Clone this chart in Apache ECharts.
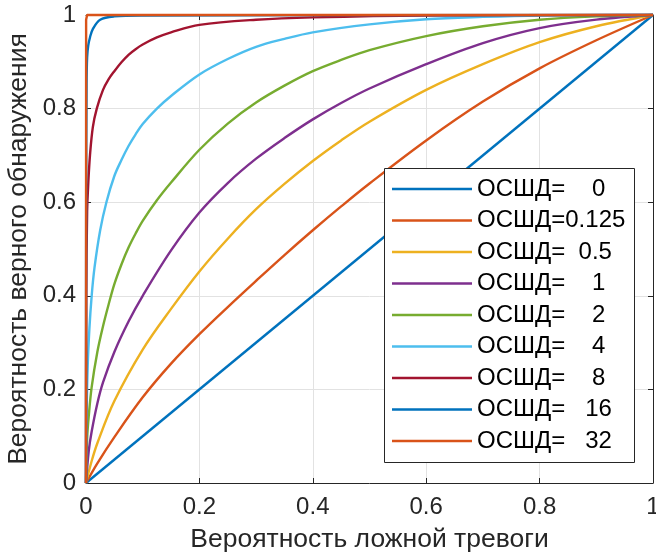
<!DOCTYPE html>
<html><head><meta charset="utf-8">
<script src="https://cdn.jsdelivr.net/npm/echarts@6/dist/echarts.min.js"></script>
<style>html,body{margin:0;padding:0;background:#fff}#c{width:656px;height:555px}</style>
</head><body><div id="c"></div>
<script>
var seriesNames = ["ОСШД=    0","ОСШД=0.125","ОСШД=  0.5","ОСШД=    1","ОСШД=    2","ОСШД=    4","ОСШД=    8","ОСШД=   16","ОСШД=   32"];
var seriesColors = ["#0072BD","#D95319","#EDB120","#7E2F8E","#77AC30","#4DBEEE","#A2142F","#0072BD","#D95319"];
var xTickLabels = ["0","0.2","0.4","0.6","0.8","1"];
var yTickLabels = ["0","0.2","0.4","0.6","0.8","1"];

var roc_0 = [[0,0],[1,1]];
var roc_0125 = [[0,0],[0.02,0.042],[0.05,0.098],[0.1,0.183],[0.15,0.255],[0.2,0.318],[0.25,0.376],[0.3,0.432],[0.35,0.487],[0.4,0.54],[0.45,0.591],[0.5,0.64],[0.6,0.732],[0.7,0.815],[0.8,0.886],[0.9,0.946],[1,1]];
var roc_05 = [[0,0],[0.01,0.047],[0.02,0.085],[0.05,0.175],[0.1,0.285],[0.15,0.372],[0.2,0.452],[0.25,0.522],[0.3,0.585],[0.35,0.639],[0.4,0.688],[0.45,0.732],[0.5,0.772],[0.6,0.84],[0.7,0.895],[0.8,0.942],[0.9,0.976],[1,1]];
var roc_1 = [[0,0],[0.005,0.07],[0.01,0.11],[0.02,0.17],[0.03,0.215],[0.05,0.28],[0.075,0.345],[0.1,0.4],[0.15,0.497],[0.2,0.578],[0.25,0.641],[0.3,0.693],[0.35,0.737],[0.4,0.777],[0.45,0.812],[0.5,0.843],[0.6,0.895],[0.7,0.94],[0.8,0.972],[0.9,0.99],[1,1]];
var roc_2 = [[0,0],[0.002,0.095],[0.005,0.145],[0.01,0.205],[0.02,0.28],[0.03,0.335],[0.04,0.382],[0.05,0.425],[0.0625,0.467],[0.075,0.503],[0.0875,0.533],[0.1,0.56],[0.125,0.604],[0.15,0.642],[0.2,0.712],[0.25,0.768],[0.3,0.813],[0.35,0.849],[0.4,0.88],[0.45,0.904],[0.5,0.925],[0.6,0.955],[0.7,0.976],[0.8,0.99],[0.9,0.997],[1,1]];
var roc_4 = [[0,0],[0.001,0.14],[0.003,0.25],[0.006,0.33],[0.01,0.4],[0.015,0.46],[0.025,0.54],[0.036,0.6],[0.05,0.656],[0.0625,0.69],[0.075,0.72],[0.0875,0.745],[0.1,0.767],[0.125,0.8],[0.15,0.827],[0.2,0.873],[0.25,0.906],[0.3,0.932],[0.35,0.949],[0.4,0.963],[0.5,0.98],[0.6,0.991],[0.7,0.996],[0.8,0.999],[1,1]];
var roc_8 = [[0,0],[0.0005,0.4],[0.002,0.58],[0.004,0.64],[0.007,0.7],[0.012,0.76],[0.019,0.8],[0.03,0.84],[0.04,0.863],[0.05,0.88],[0.0625,0.899],[0.075,0.915],[0.0875,0.927],[0.1,0.937],[0.125,0.952],[0.15,0.963],[0.2,0.979],[0.3,0.99],[0.4,0.995],[0.6,0.999],[1,1]];
var roc_16 = [[0,0],[0.0003,0.6],[0.001,0.85],[0.002,0.91],[0.004,0.935],[0.007,0.952],[0.012,0.97],[0.025,0.99],[0.05,0.997],[0.1,0.999],[1,1]];
var roc_32 = [[0,0],[0.0002,0.99],[0.002,1],[1,1]];
var rocData = [roc_0, roc_0125, roc_05, roc_1, roc_2, roc_4, roc_8, roc_16, roc_32];

var FONT = "'Liberation Sans', Arial, Helvetica, sans-serif";
var chart = echarts.init(document.getElementById('c'), null, {renderer:'canvas'});
var axisCol = '#262626';
var series = rocData.map(function(d, i){
  return {name: seriesNames[i], type:'line', data:d, showSymbol:false, symbol:'none',
    smooth: (i === 0 || i === 8) ? false : 0.35, clip:false,
    lineStyle:{color:seriesColors[i], width:2.4}, itemStyle:{color:seriesColors[i]},
    z: 2 + i*0.01, animation:false};
});
chart.setOption({
  animation:false,
  backgroundColor:'#fff',
  grid:{left:86, right:3, top:15, bottom:72, show:false, containLabel:false, outerBoundsMode:'none'},
  xAxis:[{type:'value', min:0, max:1, interval:0.2, position:'bottom',
    name:'Вероятность ложной тревоги', nameLocation:'middle', nameGap:43,
    nameTextStyle:{fontFamily:FONT, fontSize:26.5, color:axisCol},
    axisLine:{show:true, onZero:false, lineStyle:{color:axisCol, width:1}},
    axisTick:{show:true, inside:true, length:5, lineStyle:{color:axisCol}},
    axisLabel:{fontFamily:FONT, fontSize:24, color:axisCol, margin:12, hideOverlap:false,
      formatter:function(v){ return xTickLabels[Math.round(v/0.2)]; }},
    splitLine:{show:true, lineStyle:{color:'#e2e2e2', width:1}}},
   {type:'value', min:0, max:1, interval:0.2, position:'top',
    axisLine:{show:true, onZero:false, lineStyle:{color:axisCol, width:1}},
    axisTick:{show:true, inside:true, length:5, lineStyle:{color:axisCol}},
    axisLabel:{show:false}, splitLine:{show:false}}],
  yAxis:[{type:'value', min:0, max:1, interval:0.2, position:'left',
    name:'Вероятность верного обнаружения', nameLocation:'middle', nameGap:46,
    nameTextStyle:{fontFamily:FONT, fontSize:26.5, color:axisCol},
    axisLine:{show:true, onZero:false, lineStyle:{color:axisCol, width:1}},
    axisTick:{show:true, inside:true, length:5, lineStyle:{color:axisCol}},
    axisLabel:{fontFamily:FONT, fontSize:24, color:axisCol, margin:10, hideOverlap:false,
      formatter:function(v){ return yTickLabels[Math.round(v/0.2)]; }},
    splitLine:{show:true, lineStyle:{color:'#e2e2e2', width:1}}},
   {type:'value', min:0, max:1, interval:0.2, position:'right',
    axisLine:{show:true, onZero:false, lineStyle:{color:axisCol, width:1}},
    axisTick:{show:true, inside:true, length:5, lineStyle:{color:axisCol}},
    axisLabel:{show:false}, splitLine:{show:false}}],
  graphic:[{type:'rect', z:50, shape:{x:384.5, y:168.5, width:250, height:294},
    style:{fill:'#fff', stroke:'#262626', lineWidth:1}}],
  legend:{orient:'vertical', left:384, top:168, padding:[9,0,0,8], itemGap:7.5,
    itemWidth:80, itemHeight:2.5, icon:'rect', z:60, zlevel:0,
    data: seriesNames,
    textStyle:{fontFamily:FONT, fontSize:24, color:'#000', lineHeight:24}},
  series: series
});
</script></body></html>
